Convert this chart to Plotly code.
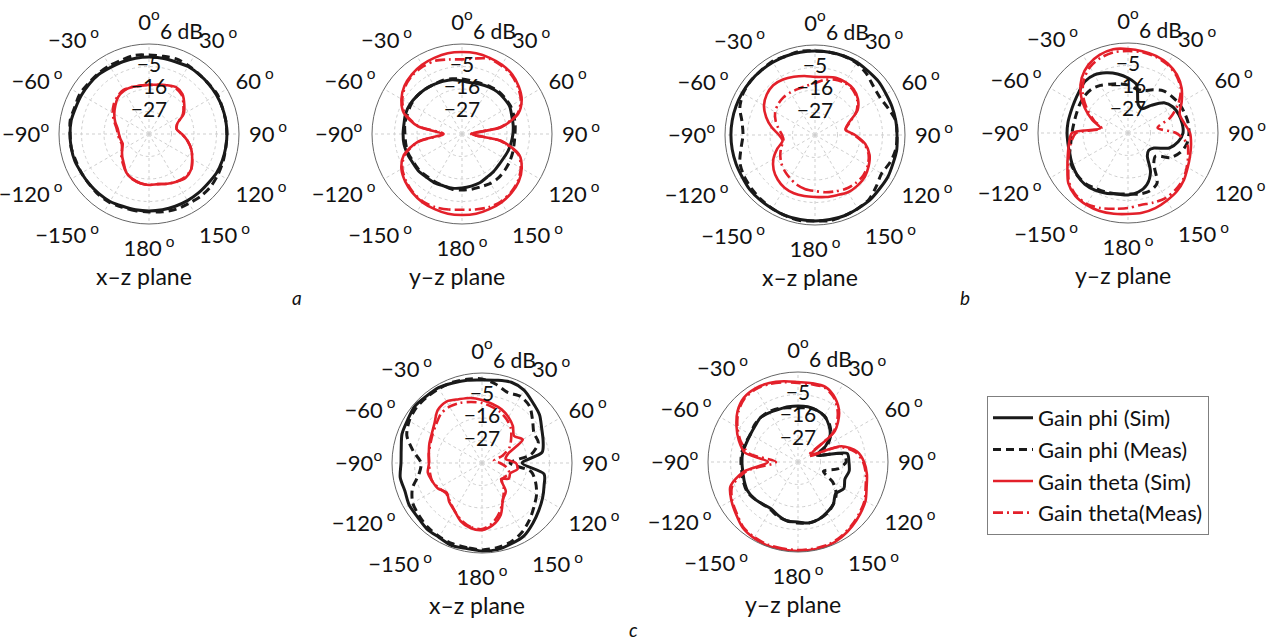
import plotly.graph_objects as go

# ---------------- data (gain in dB, angle in degrees) ----------------
THETA = [-180, -170, -160, -150, -140, -130, -120, -110, -100, -90, -80, -70, -60, -50, -40, -30, -20, -10,
         0, 10, 20, 30, 40, 50, 60, 70, 80, 90, 100, 110, 120, 130, 140, 150, 160, 170, 180]

# (a) x-z plane
A_XZ_PHI_SIM = [-0.4, -0.4, -0.4, 0.1, 0.1, 0.1, 0.1, 0.6, 0.6, 0.6, 0.6, 0.1, 0.1, 0.1, 0.1, -0.4, -0.4, -0.4,
                -0.4, -0.4, -0.4, 0.1, 0.1, 0.1, 0.1, 0.1, 0.1, 0.1, 0.1, 0.1, 0.1, -0.4, -0.4, -0.4, -0.4, -0.4, -0.4]
A_XZ_PHI_MEAS = [0.1, 0.1, 0.1, 0.6, 0.6, 0.1, 0.1, 0.1, 0.6, 0.6, 1.1, 0.6, 1.1, 0.6, 0.6, 0.6, 0.6, 1.1,
                 0.6, 0.6, 1.1, 0.6, 0.1, 0.1, 0.6, 0.1, 0.1, 0.1, 0.1, 0.6, 1.1, 1.6, 1.6, 1.1, 1.1, 0.6, 0.1]
A_XZ_TH_SIM = [-13.1, -13.6, -14.5, -16.0, -18.9, -20.9, -22.8, -24.3, -23.8, -23.3, -22.4, -20.4, -18.4, -16.5, -14.5, -13.6, -13.6, -14.0,
               -14.0, -13.6, -12.6, -11.6, -12.6, -15.5, -18.4, -23.3, -24.3, -21.9, -18.9, -16.0, -13.6, -11.1, -10.1, -11.1, -12.1, -13.1, -13.1]
A_XZ_TH_MEAS = [-13.1, -13.6, -14.5, -16.0, -18.4, -20.4, -22.8, -23.8, -23.3, -22.8, -21.9, -19.9, -17.5, -15.5, -14.0, -13.1, -13.6, -14.0,
                -14.0, -13.6, -12.6, -12.1, -13.1, -16.0, -18.9, -23.3, -24.3, -21.9, -18.9, -16.0, -13.6, -11.1, -10.6, -11.1, -12.1, -13.1, -13.1]

# (a) y-z plane
A_YZ_PHI_SIM = [-11.6, -11.1, -11.1, -10.6, -10.6, -10.1, -10.1, -9.6, -9.2, -9.2, -9.2, -8.7, -8.7, -9.2, -9.6, -10.1, -10.6, -11.1,
                -12.1, -12.6, -12.1, -11.6, -11.1, -11.1, -11.1, -12.1, -12.6, -13.1, -13.6, -14.0, -14.5, -14.5, -14.0, -13.6, -12.6, -12.1, -11.6]
A_YZ_PHI_MEAS = [-10.6, -10.6, -11.1, -11.1, -11.1, -10.6, -10.6, -10.1, -10.1, -10.1, -9.6, -9.6, -9.2, -9.2, -9.6, -10.1, -10.1, -10.6,
                 -11.1, -11.6, -11.6, -11.1, -10.6, -10.6, -10.6, -11.1, -11.6, -12.1, -12.1, -11.6, -11.1, -10.6, -10.1, -10.1, -10.6, -10.6, -10.6]
A_YZ_TH_SIM = [1.6, 1.6, 1.1, 0.6, -0.4, -1.8, -3.8, -7.7, -16.0, -28.2, -16.0, -7.7, -3.8, -1.3, 0.1, 1.1, 1.6, 2.1,
               2.1, 2.1, 1.6, 1.1, 0.1, -1.8, -4.3, -8.7, -18.4, -33.1, -18.4, -8.2, -4.3, -1.8, -0.4, 0.6, 1.1, 1.6, 1.6]
A_YZ_TH_MEAS = [-1.0, -0.5, 0.1, 0.1, -0.8, -2.3, -4.3, -8.2, -16.5, -29.0, -16.5, -8.2, -4.3, -1.8, -0.4, 0.1, 0.1, -1.0,
                -1.5, -0.5, 1.1, 0.6, -0.4, -2.3, -4.8, -9.2, -19.0, -33.5, -19.0, -8.7, -4.8, -2.3, -0.8, 0.1, 0.1, -0.5, -1.0]

# (b) x-z plane
B_XZ_PHI_SIM = [4.0, 4.0, 4.0, 3.6, 3.6, 3.6, 3.1, 3.1, 3.1, 3.1, 3.1, 3.1, 3.1, 3.1, 3.1, 3.1, 3.1, 3.1,
                3.1, 3.1, 3.1, 3.1, 2.6, 2.6, 2.1, 2.1, 2.1, 2.1, 2.6, 2.6, 3.1, 3.1, 3.6, 3.6, 4.0, 4.0, 4.0]
B_XZ_PHI_MEAS = [4.0, 4.5, 4.0, 3.6, 3.1, 2.6, 2.1, 1.1, -1.3, -2.8, -1.8, 1.1, 2.6, 3.1, 3.1, 3.6, 3.1, 3.6,
                 3.1, 3.1, 3.1, 2.6, 1.1, -0.8, -1.3, 0.1, 2.1, 2.1, 2.1, 1.1, -0.4, 1.1, 3.1, 3.6, 4.0, 4.5, 4.0]
B_XZ_TH_SIM = [-7.7, -7.7, -7.7, -8.2, -9.6, -11.6, -14.5, -18.4, -21.9, -20.4, -16.5, -12.6, -9.2, -7.2, -6.2, -6.7, -7.7, -8.7,
               -9.6, -9.2, -8.2, -8.2, -8.7, -10.6, -14.0, -20.4, -22.8, -18.4, -13.1, -9.6, -7.7, -6.2, -5.7, -5.7, -6.7, -7.2, -7.7]
B_XZ_TH_MEAS = [-10.6, -11.1, -12.1, -13.6, -15.0, -16.5, -18.4, -20.4, -22.4, -21.9, -19.9, -17.5, -15.5, -14.5, -14.0, -14.0, -14.0, -13.6,
                -12.6, -10.6, -9.2, -8.7, -9.2, -11.1, -14.5, -19.9, -22.8, -18.9, -13.6, -10.1, -8.2, -7.2, -7.2, -7.7, -8.7, -9.6, -10.6]

# (b) y-z plane
B_YZ_PHI_SIM = [-7.7, -7.7, -6.7, -5.7, -5.2, -5.7, -6.7, -7.7, -8.2, -8.2, -8.2, -8.2, -7.7, -6.7, -5.2, -5.2, -6.7, -8.7,
                -11.1, -14.0, -23.3, -24.3, -20.4, -15.0, -12.6, -11.6, -11.1, -11.1, -13.1, -16.5, -23.3, -24.8, -23.3, -16.0, -11.1, -8.7, -7.7]
B_YZ_PHI_MEAS = [-8.2, -7.7, -7.2, -6.7, -5.7, -5.7, -6.2, -7.7, -9.6, -10.6, -11.1, -11.1, -10.6, -10.1, -10.1, -11.1, -12.6, -13.6,
                 -14.5, -16.0, -16.0, -13.6, -11.1, -10.1, -9.2, -8.7, -8.2, -8.2, -8.7, -10.6, -14.0, -20.4, -18.4, -9.6, -7.7, -7.7, -8.2]
B_YZ_TH_SIM = [1.6, 2.1, 2.6, 2.6, 2.1, 0.1, -3.8, -6.7, -8.7, -10.6, -24.3, -19.4, -13.6, -7.7, -2.8, 0.6, 2.6, 3.6,
               3.1, 2.6, 2.1, 1.1, -0.8, -3.8, -7.7, -11.1, -10.1, -7.7, -6.7, -5.7, -4.3, -2.3, -0.8, 0.1, 1.1, 1.6, 1.6]
B_YZ_TH_MEAS = [-1.3, -0.4, 1.1, 2.1, 1.6, -0.4, -4.3, -7.2, -9.6, -12.6, -24.8, -20.4, -15.0, -9.2, -4.3, -0.8, 1.1, 2.1,
                2.1, 2.1, 1.6, 0.6, -1.3, -4.3, -9.6, -16.0, -23.3, -14.5, -8.7, -6.7, -4.8, -2.8, -1.8, -1.3, -1.8, -2.3, -1.3]

# (c) x-z plane
C_XZ_PHI_SIM = [5.0, 4.5, 5.0, 4.0, 4.0, 3.1, 3.1, 2.1, 2.6, 1.6, 2.1, 3.6, 4.0, 5.0, 4.5, 4.5, 3.6, 3.1,
                2.6, 3.1, 4.0, 3.1, 0.6, -1.3, -4.3, -6.2, -8.2, -18.4, -7.2, -5.7, -3.8, -1.8, 0.6, 3.1, 4.0, 5.0, 5.0]
C_XZ_PHI_MEAS = [4.5, 4.0, 4.0, 3.6, 3.1, 2.1, 1.1, -1.8, -6.7, -8.2, -3.8, 1.1, 3.1, 4.0, 4.0, 4.0, 4.0, 3.6,
                 3.1, 1.1, -1.3, -0.4, -1.8, -5.7, -8.7, -8.7, -13.6, -24.3, -13.6, -10.1, -7.2, -4.8, -1.8, 1.1, 3.1, 4.0, 4.5]
C_XZ_TH_SIM = [-5.2, -5.7, -7.7, -11.1, -13.1, -15.5, -13.1, -12.1, -11.1, -12.1, -11.6, -10.6, -9.6, -7.7, -4.3, -3.3, -4.8, -5.7,
               -7.2, -8.7, -10.1, -12.1, -14.5, -17.5, -15.0, -24.3, -26.3, -21.4, -20.4, -23.3, -22.8, -25.8, -19.9, -17.5, -11.1, -7.2, -5.2]
C_XZ_TH_MEAS = [-5.7, -6.2, -8.2, -11.1, -13.6, -15.0, -13.6, -12.1, -12.1, -12.1, -11.6, -11.1, -10.1, -8.7, -6.7, -6.2, -6.7, -7.7,
                -8.7, -10.1, -11.6, -13.6, -16.0, -19.4, -22.4, -27.2, -32.1, -29.2, -25.8, -23.8, -24.8, -25.3, -21.4, -17.5, -12.6, -8.2, -5.7]

# (c) y-z plane
C_YZ_PHI_SIM = [-8.7, -8.7, -10.1, -11.6, -11.1, -10.1, -9.6, -10.1, -10.6, -10.6, -10.6, -11.1, -11.1, -10.6, -9.6, -10.1, -10.6, -10.6,
                -10.6, -10.6, -11.1, -12.1, -14.5, -17.5, -22.4, -28.2, -13.6, -13.1, -12.6, -13.6, -12.1, -14.0, -11.1, -9.6, -8.2, -7.7, -8.7]
C_YZ_PHI_MEAS = [-8.2, -8.7, -9.6, -11.1, -11.1, -10.1, -9.2, -9.6, -10.1, -10.1, -10.1, -10.6, -11.1, -10.1, -9.6, -9.6, -10.1, -11.1,
                 -11.6, -11.1, -11.1, -12.1, -14.0, -17.0, -21.4, -27.2, -15.5, -14.5, -18.4, -24.8, -18.4, -13.6, -11.1, -9.2, -8.2, -7.7, -8.2]
C_YZ_TH_SIM = [5.5, 5.5, 5.5, 5.0, 4.0, 1.6, -0.4, -2.8, -11.1, -23.3, -11.6, -7.2, -3.3, 0.6, 3.1, 3.6, 3.1, 2.1,
               1.1, 1.1, 1.1, -1.8, -6.7, -14.5, -30.7, -15.5, -8.7, -5.7, -3.8, -2.3, 0.1, 1.6, 3.1, 4.5, 5.5, 5.5, 5.5]
C_YZ_TH_MEAS = [5.0, 5.0, 5.0, 4.5, 3.6, 1.1, -0.8, -3.8, -12.6, -27.2, -13.6, -8.2, -3.8, 0.1, 2.6, 3.1, 2.6, 1.6,
                0.6, 0.6, 0.6, -2.3, -7.7, -15.5, -32.1, -16.5, -9.6, -6.2, -4.3, -2.8, -0.4, 1.1, 2.6, 4.0, 5.0, 5.0, 5.0]

SERIES_NAMES = ["Gain phi (Sim)", "Gain phi (Meas)", "Gain theta (Sim)", "Gain theta(Meas)"]
RADIAL_RANGE = [-38, 6]
RADIAL_TICKS = [-27, -16, -5, 6]
RADIAL_TEXT = ["\u221227", "\u221216", "\u22125", "6 dB"]
ANGLE_TICKS = [0, 30, 60, 90, 120, 150, 180, 210, 240, 270, 300, 330]
ANGLE_TEXT = ["0<sup>o</sup>", "30<sup> o</sup>", "60<sup> o</sup>", "90<sup> o</sup>", "120<sup> o</sup>",
              "150<sup> o</sup>", "180<sup> o</sup>", "\u2212150<sup> o</sup>", "\u2212120<sup> o</sup>",
              "\u221290<sup>o</sup>", "\u221260<sup> o</sup>", "\u221230<sup> o</sup>"]
PANEL_LABELS = ["a", "b", "c"]

# ---------------- layout / style ----------------
W, H = 1269, 642
R_PX = 90
FONT = "Lato, 'Open Sans', sans-serif"
BLACK = "#1a1a1a"
RED = "#e3202a"
GRID = "#cfcfcf"

panels = [
    dict(cx=149, cy=134, title="x\u2013z plane", data=[A_XZ_PHI_SIM, A_XZ_PHI_MEAS, A_XZ_TH_SIM, A_XZ_TH_MEAS]),
    dict(cx=462, cy=134, title="y\u2013z plane", data=[A_YZ_PHI_SIM, A_YZ_PHI_MEAS, A_YZ_TH_SIM, A_YZ_TH_MEAS]),
    dict(cx=815, cy=135, title="x\u2013z plane", data=[B_XZ_PHI_SIM, B_XZ_PHI_MEAS, B_XZ_TH_SIM, B_XZ_TH_MEAS]),
    dict(cx=1128, cy=133, title="y\u2013z plane", data=[B_YZ_PHI_SIM, B_YZ_PHI_MEAS, B_YZ_TH_SIM, B_YZ_TH_MEAS]),
    dict(cx=482, cy=463, title="x\u2013z plane", data=[C_XZ_PHI_SIM, C_XZ_PHI_MEAS, C_XZ_TH_SIM, C_XZ_TH_MEAS]),
    dict(cx=798, cy=462, title="y\u2013z plane", data=[C_YZ_PHI_SIM, C_YZ_PHI_MEAS, C_YZ_TH_SIM, C_YZ_TH_MEAS]),
]
styles = [
    dict(color=BLACK, width=3.0, dash="solid"),
    dict(color=BLACK, width=3.0, dash="8px,5px"),
    dict(color=RED, width=2.6, dash="solid"),
    dict(color=RED, width=2.6, dash="10px,4px,2px,4px"),
]
label_pos = [(297, 298), (965, 298), (633, 629)]

fig = go.Figure()
layout_polars = {}
annotations = []
for i, p in enumerate(panels):
    sub = "polar" if i == 0 else f"polar{i + 1}"
    for k, (vals, st) in enumerate(zip(p["data"], styles)):
        fig.add_trace(go.Scatterpolar(
            r=vals, theta=THETA, mode="lines", name=SERIES_NAMES[k], subplot=sub,
            line=dict(color=st["color"], width=st["width"], dash=st["dash"], shape="spline", smoothing=0.8),
            showlegend=(i == 0), hoverinfo="skip"))
    fig.add_trace(go.Scatterpolar(
        r=RADIAL_TICKS[:3], theta=[0, 0, 0], mode="text", text=RADIAL_TEXT[:3],
        textposition="middle center", textfont=dict(family=FONT, size=21, color="#111"),
        subplot=sub, showlegend=False, hoverinfo="skip", cliponaxis=False))
    fig.add_trace(go.Scatterpolar(
        r=RADIAL_TICKS[3:], theta=[7], mode="text", text=RADIAL_TEXT[3:],
        textposition="top right", textfont=dict(family=FONT, size=21, color="#111"),
        subplot=sub, showlegend=False, hoverinfo="skip", cliponaxis=False))
    cx, cy = p["cx"], p["cy"]
    layout_polars[sub] = dict(
        domain=dict(x=[(cx - R_PX) / W, (cx + R_PX) / W], y=[1 - (cy + R_PX) / H, 1 - (cy - R_PX) / H]),
        bgcolor="white",
        radialaxis=dict(range=RADIAL_RANGE, tickvals=RADIAL_TICKS, showticklabels=False, ticks="",
                        showline=False, gridcolor=GRID, griddash="dot", gridwidth=1),
        angularaxis=dict(direction="clockwise", rotation=90, tickmode="array", tickvals=ANGLE_TICKS,
                         ticktext=ANGLE_TEXT, ticks="outside", ticklen=5, tickcolor="rgba(0,0,0,0)",
                         showline=True, linecolor="#666", linewidth=1, gridcolor=GRID, griddash="dot",
                         tickfont=dict(family=FONT, size=22, color="#111")),
    )
    annotations.append(dict(text=p["title"], x=(cx - 5) / W, y=1 - (cy + 142) / H, xref="paper", yref="paper",
                            showarrow=False, xanchor="center", yanchor="middle",
                            font=dict(family=FONT, size=23, color="#111")))
for lab, (lx, ly) in zip(PANEL_LABELS, label_pos):
    annotations.append(dict(text=f"<i>{lab}</i>", x=lx / W, y=1 - ly / H, xref="paper", yref="paper",
                            showarrow=False, xanchor="center", yanchor="middle",
                            font=dict(family=FONT, size=19, color="#111")))

fig.update_layout(
    width=W, height=H, margin=dict(l=0, r=0, t=0, b=0),
    paper_bgcolor="white", plot_bgcolor="white",
    font=dict(family=FONT, size=22, color="#111"),
    annotations=annotations,
    legend=dict(x=987 / W, y=1 - 396 / H, xanchor="left", yanchor="top",
                bordercolor="#7f7f7f", borderwidth=1, bgcolor="white",
                font=dict(family=FONT, size=22, color="#111"), itemwidth=40, tracegroupgap=0),
    **layout_polars,
)
fig.write_html("out.html")
